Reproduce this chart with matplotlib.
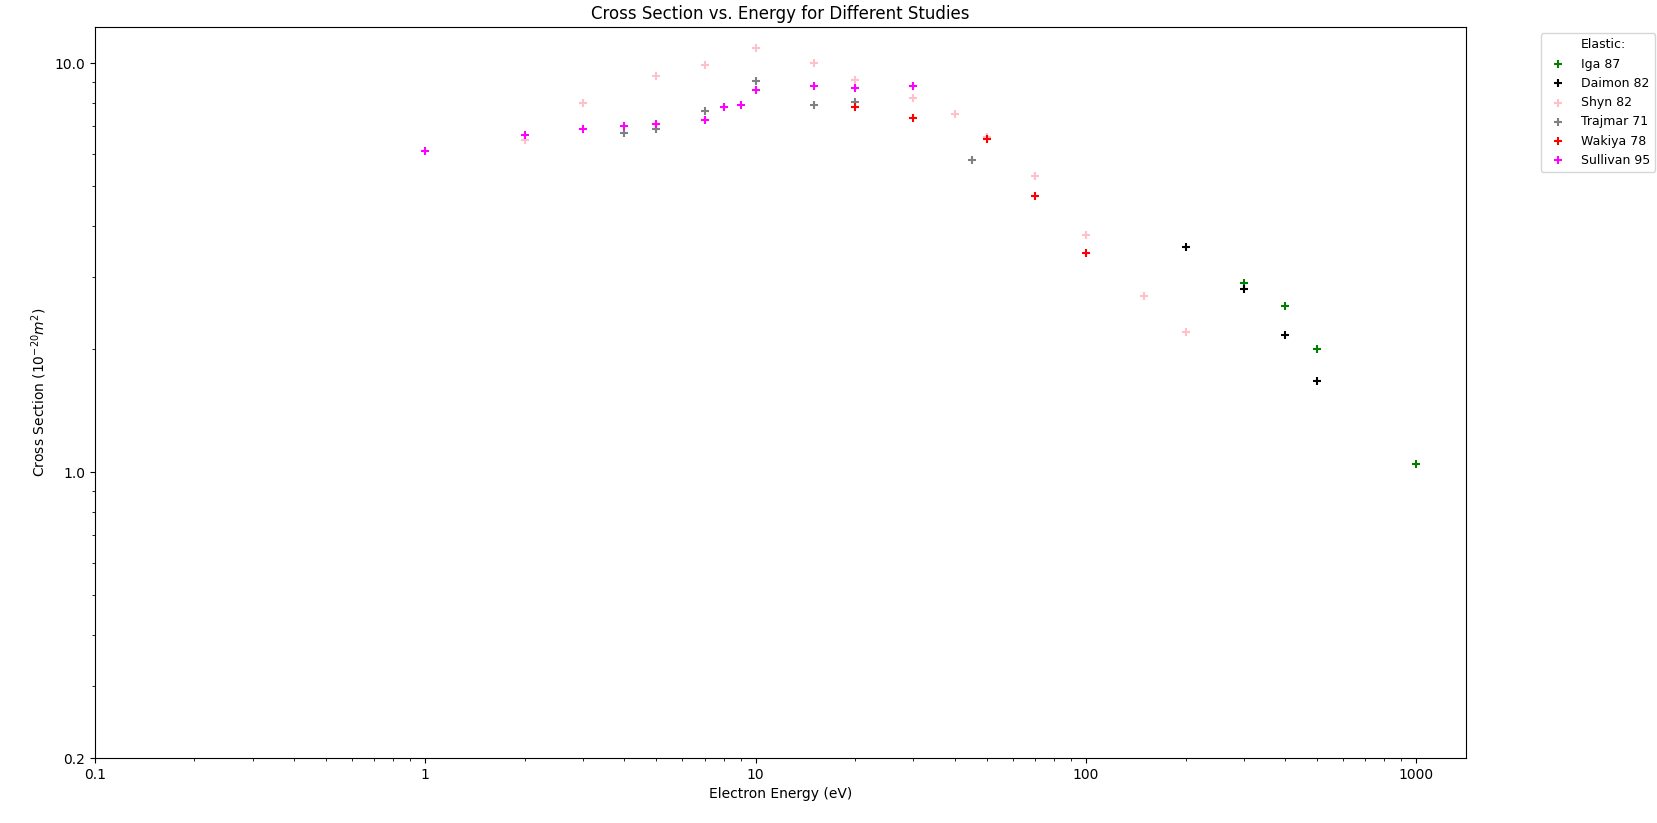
import numpy as np
import matplotlib
matplotlib.use('Agg')
import matplotlib.pyplot as plt
from matplotlib.ticker import FuncFormatter, NullFormatter

#---------------------------------------------------------------------
# elastic cross sections, 10^-20 m^2
#---------------------------------------------------------------------
iga_E = [300, 400, 500, 1000]
iga_cs = [2.9, 2.55, 2.0, 1.045]

daimon_E = [200, 300, 400, 500]
daimon_cs = [3.55, 2.8, 2.17, 1.675]

shyn_E = [2, 3, 5, 7, 10, 15, 20, 30, 40, 50, 70, 100, 150, 200]
shyn_cs = [6.5, 8.0, 9.3, 9.9, 10.9, 10.0, 9.1, 8.2, 7.5, 6.6, 5.3, 3.8, 2.7, 2.2]

trajmar_E = [4, 5, 7, 10, 15, 20, 45]
trajmar_cs = [6.76, 6.92, 7.62, 9.04, 7.88, 8.04, 5.81]

wakiya_E = [20, 30, 50, 70, 100]
wakiya_cs = [7.79, 7.34, 6.52, 4.72, 3.44]

sullivan_E = [1, 2, 3, 4, 5, 7, 8, 9, 10, 15, 20, 30]
sullivan_cs = [6.09, 6.69, 6.9, 7.0, 7.1, 7.28, 7.79, 7.88, 8.59, 8.8, 8.69, 8.8]

studies = [('Iga 87', iga_E, iga_cs, 'green'),
           ('Daimon 82', daimon_E, daimon_cs, 'black'),
           ('Shyn 82', shyn_E, shyn_cs, 'pink'),
           ('Trajmar 71', trajmar_E, trajmar_cs, 'grey'),
           ('Wakiya 78', wakiya_E, wakiya_cs, 'red'),
           ('Sullivan 95', sullivan_E, sullivan_cs, 'magenta')]

fig = plt.figure(figsize=(16.58, 8.23), dpi=100)
ax = fig.add_axes([95/1658, 65/823, (1466-95)/1658, (758-27)/823])

ax.plot([], [], ' ', label='Elastic:')
for name, E, cs, col in studies:
    ax.scatter(E, cs, marker='+', color=col, label=name)

ax.set_xscale('log')
ax.set_yscale('log')
ax.set_xlim(left=0.1)
ax.set_ylim(bottom=0.2)

ax.set_xticks([0.1, 1, 10, 100, 1000])
ax.set_yticks([0.2, 1, 10])
ax.xaxis.set_major_formatter(FuncFormatter(lambda v, p: '%g' % v))
ax.yaxis.set_major_formatter(FuncFormatter(lambda v, p: '%.1f' % v))
ax.xaxis.set_minor_formatter(NullFormatter())
ax.yaxis.set_minor_formatter(NullFormatter())

ax.set_xlabel('Electron Energy (eV)')
ax.set_ylabel(r'Cross Section ($10^{-20} m^2$)')
ax.set_title('Cross Section vs. Energy for Different Studies')

ax.legend(bbox_to_anchor=(1.05, 1), loc='upper left', fontsize=9)

fig.savefig('out.png', dpi=100)
